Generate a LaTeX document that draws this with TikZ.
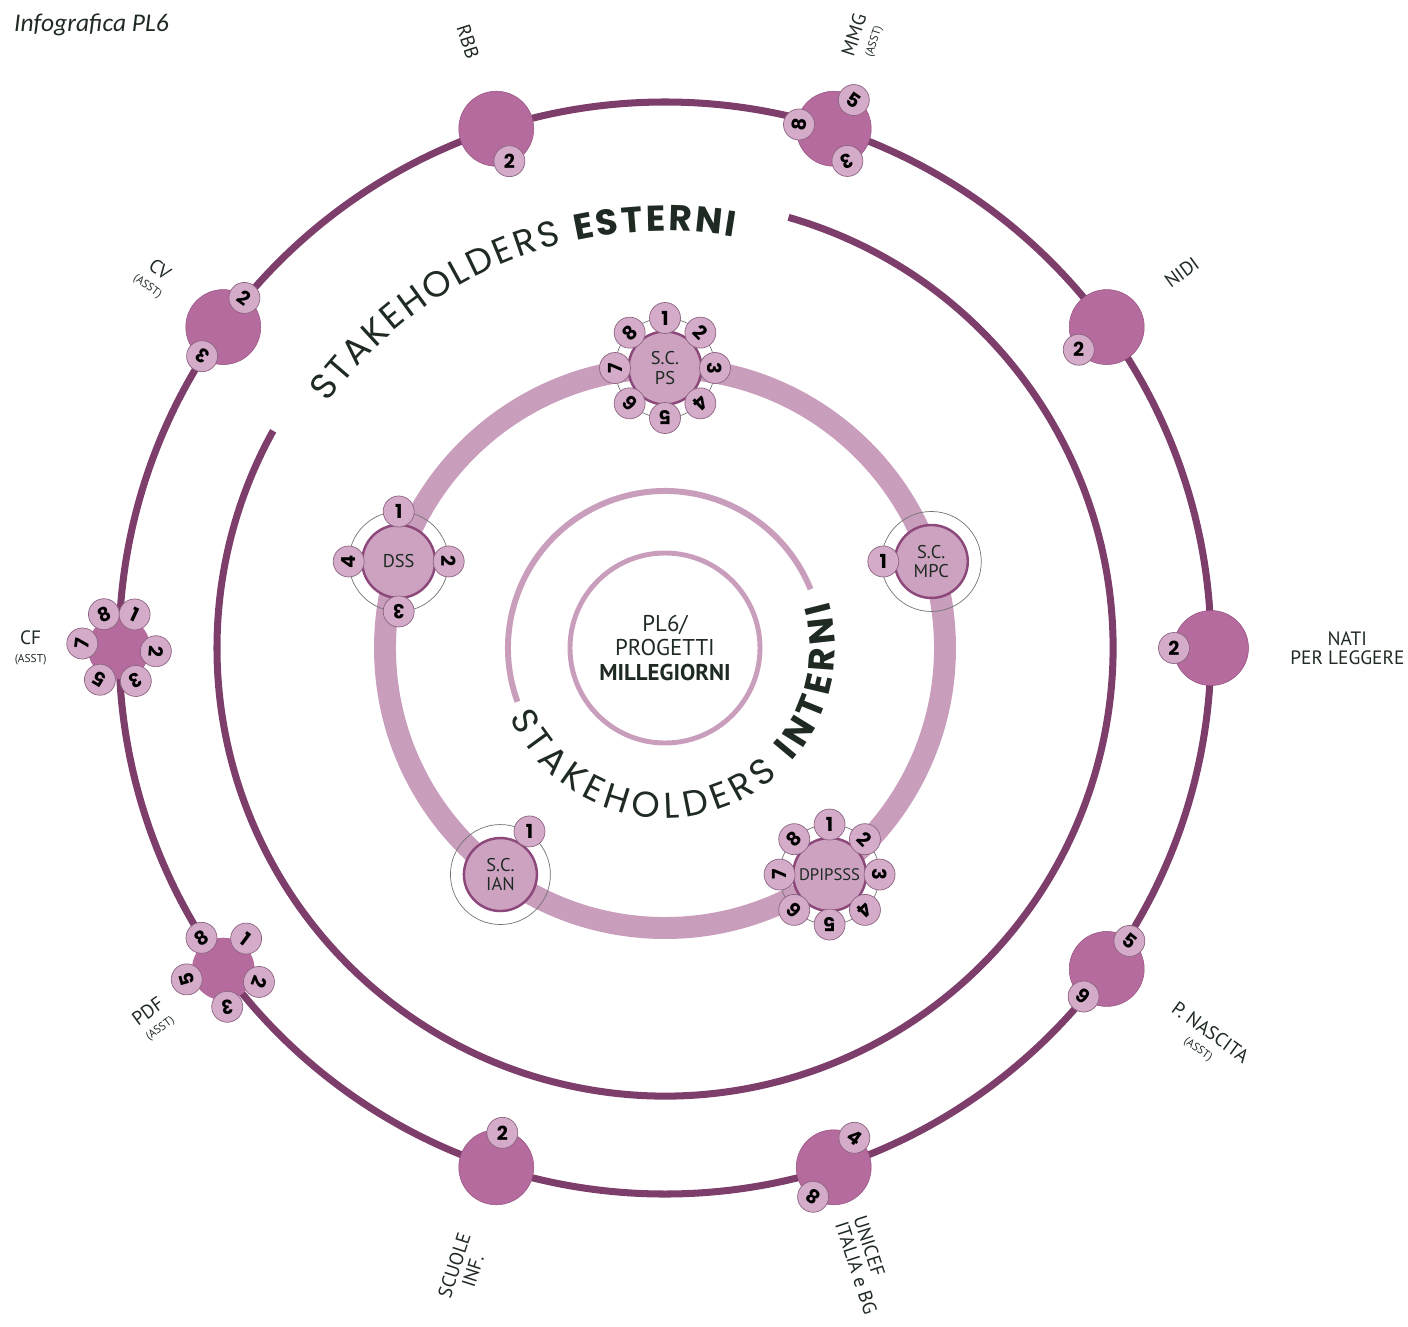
\documentclass[tikz,border=0pt]{standalone}
\usepackage{fontspec}
\setmainfont{PT Sans}
\newfontfamily\titlefont{Carlito}
\newfontfamily\stkfont{Poppins}
\usetikzlibrary{decorations.text}

\definecolor{ringdark}{RGB}{125,62,108}
\definecolor{nodeext}{RGB}{181,107,157}
\definecolor{nodeextline}{RGB}{150,82,130}
\definecolor{badgefill}{RGB}{212,172,201}
\definecolor{badgeline}{RGB}{140,100,130}
\definecolor{ringlight}{RGB}{201,158,188}
\definecolor{nodeint}{RGB}{205,162,193}
\definecolor{nodeintline}{RGB}{140,72,122}
\definecolor{inkgreen}{RGB}{30,42,34}

\newcommand{\asst}{\fontsize{6.5}{7}\selectfont(ASST)}
\newcommand{\stkreg}{\stkfont\fontsize{20.5}{21}\selectfont}
\newcommand{\stkbold}{\stkfont\bfseries\fontsize{20.5}{21}\selectfont}

\begin{document}
\begin{tikzpicture}[x=0.02cm, y=0.02cm,
    ext/.style={circle, fill=nodeext, draw=nodeextline, line width=0.3pt, minimum size=1.5cm, inner sep=0pt},
    flower/.style={circle, fill=nodeext, minimum size=1.25cm, inner sep=0pt},
    intnode/.style={circle, fill=nodeint, draw=nodeintline, line width=1.4pt, minimum size=1.46cm, inner sep=0pt,
      align=center, text=inkgreen, font=\fontsize{10.5}{11}\selectfont},
    halo/.style={circle, draw=black!55, line width=0.4pt, minimum size=2cm, inner sep=0pt},
    badge/.style={circle, fill=badgefill, draw=badgeline, line width=0.4pt, minimum size=0.62cm, inner sep=0pt,
      text=black, font=\stkfont\bfseries\fontsize{11}{11}\selectfont},
    lbl/.style={align=center, text=inkgreen, inner sep=0pt, font=\fontsize{11}{11}\selectfont}]
\useasboundingbox (-665,-678) rectangle (743,648);

\node[anchor=west, text=inkgreen, font=\titlefont\itshape\fontsize{14.5}{15}\selectfont] (title) at (-657,623) {Infografica PL6};

% anelli
\coordinate (c) at (0,0);
\draw[ringdark, line width=4pt] (c) circle (546);
\draw[ringdark, line width=4pt] (74:448) arc[start angle=74, end angle=-209, radius=448];
\draw[ringlight, line width=12.5pt] (c) circle (280);
\draw[ringlight, line width=3.4pt] (22:157) arc[start angle=22, end angle=200, radius=157];
\draw[ringlight, line width=2.8pt] (c) circle (95);

\path[decorate, decoration={text along path, text color=inkgreen, text align={fit to path},
    text={|\stkreg|STAKEHOLDERS |\stkbold|ESTERNI}}]
  (144:417) arc[start angle=144, end angle=80.5, radius=417];
\path[decorate, decoration={text along path, text color=inkgreen, text align={fit to path},
    text={|\stkreg|STAKEHOLDERS |\stkbold|INTERNI}}]
  (204:170) arc[start angle=204, end angle=376, radius=170];

\node[align=center, text=inkgreen, font=\fontsize{13}{13.8}\selectfont] (pl6) at (c) {PL6/\\PROGETTI\\\textbf{MILLEGIORNI}};

% stakeholders esterni
\node[ext] (rbb) at (108:546) {};
\node[ext] (mmg) at (72:546) {};
\node[ext] (nidi) at (36:546) {};
\node[ext] (npl) at (0:546) {};
\node[ext] (pn) at (-36:546) {};
\node[ext] (unicef) at (-72:546) {};
\node[ext] (scuole) at (-108:546) {};
\node[flower] (pdf) at (-144:546) {};
\node[flower] (cf) at (180:546) {};
\node[ext] (cv) at (144:546) {};

\node[badge] (rbb-2) at ([shift={(-68:35)}]rbb) {2};
\node[badge, rotate=-35] (mmg-5) at ([shift={(55:35)}]mmg) {5};
\node[badge, rotate=83] (mmg-8) at ([shift={(173:35)}]mmg) {8};
\node[badge, rotate=-157] (mmg-3) at ([shift={(-67:35)}]mmg) {3};
\node[badge] (nidi-2) at ([shift={(-141:36)}]nidi) {2};
\node[badge] (npl-2) at ([shift={(180:37)}]npl) {2};
\node[badge, rotate=-39] (pn-5) at ([shift={(51:36)}]pn) {5};
\node[badge, rotate=140] (pn-6) at ([shift={(-130:36)}]pn) {6};
\node[badge, rotate=-35] (unicef-4) at ([shift={(55:36)}]unicef) {4};
\node[badge, rotate=145] (unicef-8) at ([shift={(-125:36)}]unicef) {8};
\node[badge] (scuole-2) at ([shift={(80:35)}]scuole) {2};
\node[badge, rotate=35] (pdf-8) at ([shift={(125:38)}]pdf) {8};
\node[badge, rotate=-37] (pdf-1) at ([shift={(53:38)}]pdf) {1};
\node[badge, rotate=-110] (pdf-2) at ([shift={(-20:38)}]pdf) {2};
\node[badge, rotate=-174] (pdf-3) at ([shift={(-84:38)}]pdf) {3};
\node[badge, rotate=106] (pdf-5) at ([shift={(-164:38)}]pdf) {5};
\node[badge, rotate=24] (cf-8) at ([shift={(114:37)}]cf) {8};
\node[badge, rotate=-25] (cf-1) at ([shift={(65:37)}]cf) {1};
\node[badge, rotate=-95] (cf-2) at ([shift={(-5:37)}]cf) {2};
\node[badge, rotate=-153] (cf-3) at ([shift={(-63:37)}]cf) {3};
\node[badge, rotate=149] (cf-5) at ([shift={(-121:37)}]cf) {5};
\node[badge, rotate=83] (cf-7) at ([shift={(173:37)}]cf) {7};
\node[badge, rotate=-36] (cv-2) at ([shift={(54:36)}]cv) {2};
\node[badge, rotate=144] (cv-3) at ([shift={(-126:36)}]cv) {3};

\node[lbl, anchor=east, rotate=-72] (rbb-l) at (108:620) {RBB};
\node[lbl, anchor=west, rotate=72] (mmg-l) at (72:620) {MMG\\[-1pt]\asst};
\node[lbl, anchor=west, rotate=36] (nidi-l) at (36:620) {NIDI};
\node[lbl, anchor=west] (npl-l) at (0:625) {NATI\\PER LEGGERE};
\node[lbl, anchor=west, rotate=-36] (pn-l) at (-36:622) {P. NASCITA\\[-1pt]\asst};
\node[lbl, anchor=west, rotate=-72, align=left] (unicef-l) at (-72:600) {UNICEF\\ITALIA e BG};
\node[lbl, anchor=east, rotate=72] (scuole-l) at (-108:618) {SCUOLE\\INF.};
\node[lbl, anchor=east, rotate=36] (pdf-l) at (-144:615) {PDF\\[-1pt]\asst};
\node[lbl, anchor=east] (cf-l) at (180:618) {CF\\[-1pt]\asst};
\node[lbl, anchor=east, rotate=-36] (cv-l) at (144:615) {CV\\[-1pt]\asst};

% stakeholders interni
\node[halo] (ps-h) at (90:280) {};
\node[intnode] (ps) at (90:280) {S.C.\\PS};
\foreach \n in {1,...,8} {
  \pgfmathsetmacro\ang{90-45*(\n-1)}
  \node[badge, rotate=\ang-90] (ps-\n) at ([shift={(\ang:50)}]ps) {\n};
}
\node[halo] (dss-h) at (162:280) {};
\node[intnode] (dss) at (162:280) {DSS};
\node[badge] (dss-1) at ([shift={(90:50)}]dss) {1};
\node[badge, rotate=-90] (dss-2) at ([shift={(0:50)}]dss) {2};
\node[badge, rotate=180] (dss-3) at ([shift={(-90:50)}]dss) {3};
\node[badge, rotate=90] (dss-4) at ([shift={(180:50)}]dss) {4};
\node[halo] (mpc-h) at (18:280) {};
\node[intnode] (mpc) at (18:280) {S.C.\\MPC};
\node[badge] (mpc-1) at ([shift={(180:48)}]mpc) {1};
\node[halo] (ian-h) at (-126:280) {};
\node[intnode] (ian) at (-126:280) {S.C.\\IAN};
\node[badge] (ian-1) at ([shift={(56:52)}]ian) {1};
\node[halo] (dpi-h) at (-54:280) {};
\node[intnode, font=\fontsize{9.5}{10}\selectfont] (dpi) at (-54:280) {DPIPSSS};
\foreach \n in {1,...,8} {
  \pgfmathsetmacro\ang{90-45*(\n-1)}
  \node[badge, rotate=\ang-90] (dpi-\n) at ([shift={(\ang:50)}]dpi) {\n};
}
\end{tikzpicture}
\end{document}
